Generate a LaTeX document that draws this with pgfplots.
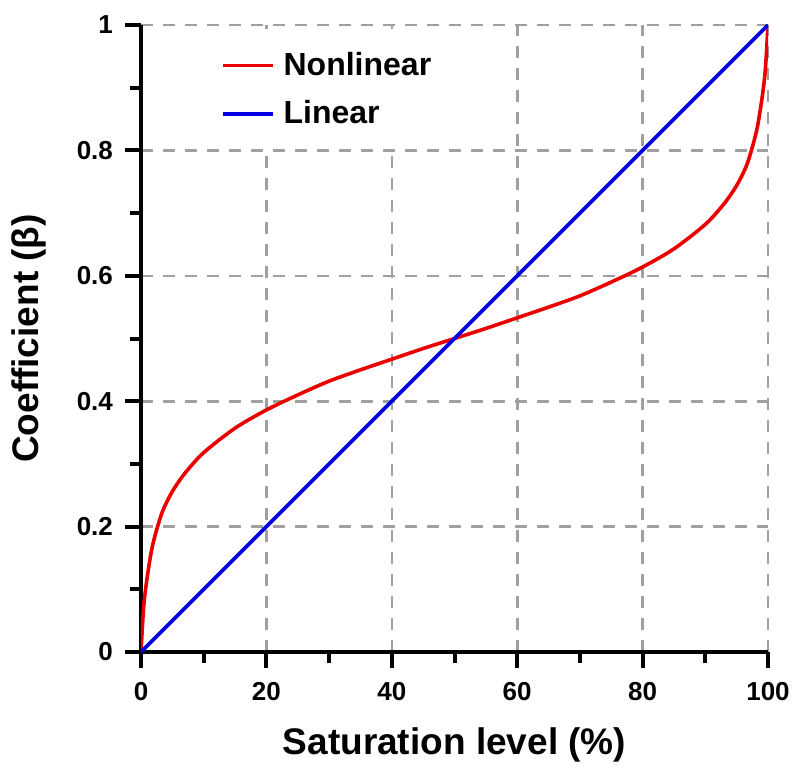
\documentclass[border=0pt]{standalone}
\usepackage{pgfplots}
\pgfplotsset{compat=1.18}
\usepackage{fontspec}
\setmainfont{Liberation Sans}
\definecolor{gridgray}{RGB}{160,160,160}
\definecolor{cred}{RGB}{235,0,0}
\definecolor{cblue}{RGB}{0,0,225}
\begin{document}
\begin{tikzpicture}
\useasboundingbox (-70.5pt,-60pt) rectangle (326pt,326pt);
\begin{axis}[
  width=313.5pt, height=313.5pt, scale only axis,
  xmin=0, xmax=100, ymin=0, ymax=1,
  axis x line=bottom, axis y line=left,
  axis line style={-, line width=2.2pt, black},
  xtick={0,20,...,100}, ytick={0,0.2,...,1},
  minor x tick num=1, minor y tick num=1,
  tick align=outside,
  major tick length=8pt, minor tick length=5.5pt,
  major tick style={line width=2pt, black},
  minor tick style={line width=2pt, black},
  grid=major,
  major grid style={gridgray, line width=1.3pt, dash pattern=on 6pt off 5pt},
  /pgf/number format/assume math mode=true,
  tick label style={font=\fontsize{13}{15}\selectfont\bfseries},
  xticklabel style={yshift=-3.5pt},
  yticklabel style={xshift=-2.5pt},
  every axis x label/.style={at={(axis description cs:0.5,-0.148)}, anchor=center},
  every axis y label/.style={at={(axis description cs:-0.178,0.5)}, rotate=90, anchor=center},
  label style={font=\fontsize{18.5}{21}\selectfont\bfseries},
  xlabel={Saturation level (\%)},
  ylabel={Coefficient (β)},
  legend style={draw=none, fill=none, inner sep=0pt, row sep=9pt,
    at={(rel axis cs:0.127,0.96)}, anchor=north west,
    font=\fontsize{16}{18}\selectfont\bfseries,
    nodes={inner sep=1pt}},
  legend cell align=left,
  legend image code/.code={\draw[#1] (0pt,0pt) -- (25pt,0pt); \path (28.5pt,0pt);},
]
\fill[white] (axis cs:1,0.806) rectangle (axis cs:50,0.994);
\addplot[cred, line width=1.8pt, smooth, tension=0.5] coordinates {
(0,0) (0.25,0.045) (0.5,0.08) (1,0.12) (1.7,0.163) (2.5,0.195) (3.5,0.226)
(5,0.256) (7,0.285) (10,0.318) (15,0.357) (20,0.386) (25,0.41) (30,0.432)
(35,0.45) (40,0.467) (45,0.484) (50,0.5) (55,0.516) (60,0.533) (65,0.55)
(70,0.568) (75,0.59) (80,0.614) (85,0.643) (90,0.682) (93,0.715) (95,0.744)
(96.5,0.774) (97.5,0.805) (98.3,0.837) (99,0.88) (99.5,0.92) (99.75,0.955) (100,1)
};
\addlegendentry{Nonlinear}
\addplot[cblue, line width=1.8pt] coordinates {(0,0) (100,1)};
\addlegendentry{Linear}
\end{axis}
\end{tikzpicture}
\end{document}
